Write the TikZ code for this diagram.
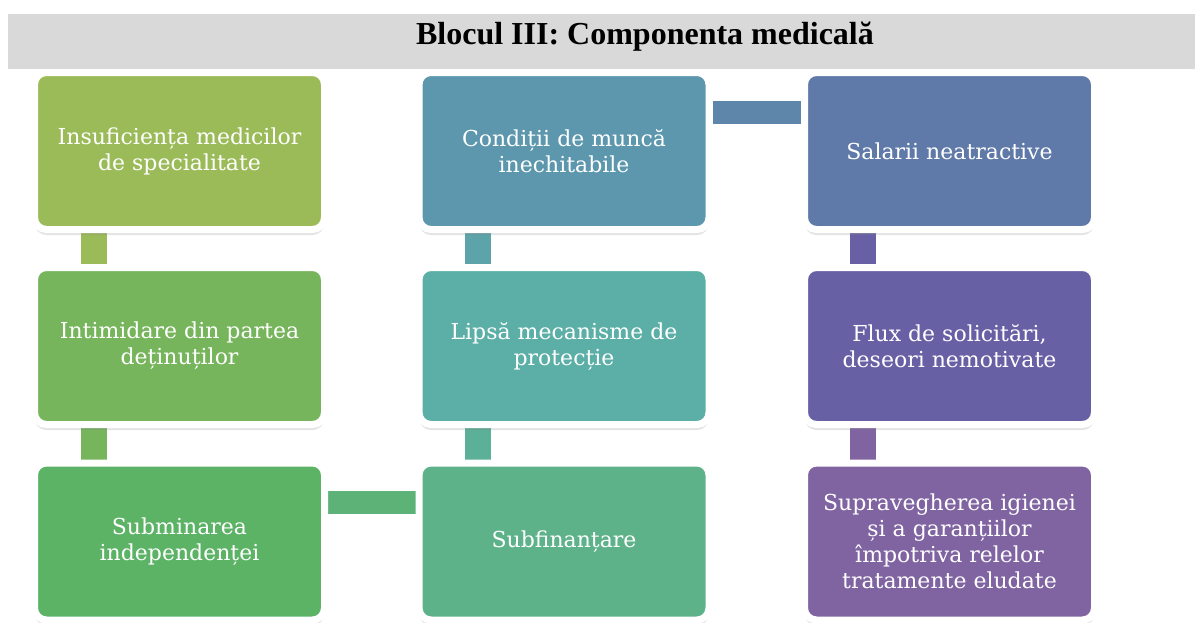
\documentclass[tikz,border=0pt]{standalone}
\usepackage{fontspec}
\setmainfont{Liberation Serif}
\newfontfamily\boxfont{DejaVu Serif}
\usetikzlibrary{shadows,backgrounds}

\definecolor{titlegray}{HTML}{D9D9D9}
\definecolor{cA}{HTML}{9BBB59}
\definecolor{cB}{HTML}{77B55C}
\definecolor{cC}{HTML}{5CB366}
\definecolor{cD}{HTML}{5DB28A}
\definecolor{cE}{HTML}{5CAFA6}
\definecolor{cF}{HTML}{5C97AD}
\definecolor{cG}{HTML}{5F79A8}
\definecolor{cH}{HTML}{6760A5}
\definecolor{cI}{HTML}{8064A2}

\tikzset{
  box/.style={draw=white, line width=7pt, rounded corners=12pt,
    minimum width=290pt, minimum height=157pt, align=center,
    text=white, font=\boxfont\fontsize{22}{26}\selectfont,
    drop shadow={opacity=0.22, shadow xshift=0pt, shadow yshift=-5.5pt}},
  vlink/.style={line width=26pt},
  hlink/.style={line width=23pt}
}

\begin{document}
\begin{tikzpicture}[x=1pt,y=-1pt]
\useasboundingbox (0,0) rectangle (1195,622);
\fill[titlegray] (8,14) rectangle (1195,69);
\node[anchor=base, font=\fontsize{32}{34}\selectfont\bfseries] (title) at (645,44) {Blocul III: Componenta medicală};

\node[box, fill=cA] (insuf) at (179.5,151) {Insuficiența medicilor\\de specialitate};
\node[box, fill=cB] (intim) at (179.5,346) {Intimidare din partea\\deținuților};
\node[box, fill=cC] (submin) at (179.5,541.5) {Subminarea\\independenței};
\node[box, fill=cD] (subfin) at (564,541.5) {Subfinanțare};
\node[box, fill=cE] (lipsa) at (564,346) {Lipsă mecanisme de\\protecție};
\node[box, fill=cF] (cond) at (564,151) {Condiții de muncă\\inechitabile};
\node[box, fill=cG] (salar) at (949.5,151) {Salarii neatractive};
\node[box, fill=cH] (flux) at (949.5,346) {Flux de solicitări,\\deseori nemotivate};
\node[box, fill=cI] (supra) at (949.5,541.5) {Supravegherea igienei\\și a garanțiilor\\împotriva relelor\\tratamente eludate};

\begin{scope}[on background layer]
\draw[vlink, cA] ([xshift=-85.5pt]insuf.south) -- ([xshift=-85.5pt]intim.north);
\draw[vlink, cB] ([xshift=-85.5pt]intim.south) -- ([xshift=-85.5pt]submin.north);
\draw[hlink, cC!50!cD] ([yshift=39.5pt]submin.east) -- ([yshift=39.5pt]subfin.west);
\draw[vlink, cD!50!cE] ([xshift=-86pt]subfin.north) -- ([xshift=-86pt]lipsa.south);
\draw[vlink, cE!50!cF] ([xshift=-86pt]lipsa.north) -- ([xshift=-86pt]cond.south);
\draw[hlink, cF!40!cG] ([yshift=39pt]cond.east) -- ([yshift=39pt]salar.west);
\draw[vlink, cH] ([xshift=-86.5pt]salar.south) -- ([xshift=-86.5pt]flux.north);
\draw[vlink, cI] ([xshift=-86.5pt]flux.south) -- ([xshift=-86.5pt]supra.north);
\end{scope}
\end{tikzpicture}
\end{document}
